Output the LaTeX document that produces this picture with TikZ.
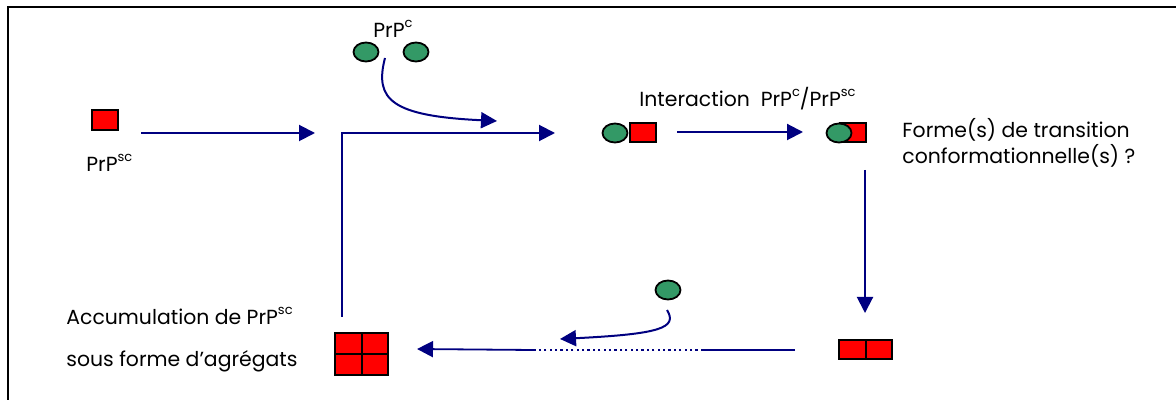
\documentclass[tikz,border=0pt]{standalone}
\usepackage{fontspec}
\setmainfont{Poppins}
\usetikzlibrary{arrows.meta,shapes.geometric}
\definecolor{navy}{RGB}{0,0,128}
\definecolor{prpgreen}{RGB}{51,153,102}
\newcommand{\prpsup}[1]{\raisebox{0.9ex}{\fontsize{6.5}{7}\selectfont #1}}
\begin{document}
\begin{tikzpicture}[x=0.5pt,y=-0.5pt]
        \tikzstyle{sc} = [rectangle, draw=black, fill=red, line width=1pt, minimum width=13pt, minimum height=10pt, inner sep=0pt]
        \tikzstyle{pc} = [ellipse, draw=black, fill=prpgreen, line width=0.9pt, minimum width=12.5pt, minimum height=9.5pt, inner sep=0pt]
        \tikzstyle{arrow} = [navy, line width=1pt, -{Triangle[length=8pt,width=8pt]}]
        \tikzstyle{txt} = [font=\fontsize{10.2}{12}\selectfont, inner sep=0pt, anchor=base west]
        \useasboundingbox (0,0) rectangle (1176,400);
        % cadre
        \draw[line width=1.2pt] (8,400) -- (8,7) -- (1176,7);
        % PrPsc seule
        \node (sc1) [sc] at (105,120) {};
        \node (lsc1) [txt] at (86,172) {PrP\prpsup{sc}};
        \coordinate (a1) at (141,133);
        \coordinate (a2) at (315,133);
        \draw[arrow] (a1) -- (a2);
        % PrPc
        \node (lc) [txt] at (373,38) {PrP\prpsup{c}};
        \node (c1) [pc] at (366,52) {};
        \node (c2) [pc] at (416,52) {};
        \coordinate (b1) at (385,58);
        \coordinate (b2) at (497,121);
        \draw[arrow] (b1) .. controls (374,100) and (392,116) .. (b2);
        % complexe
        \node (k1) [pc] at (615,133) {};
        \node (k2) [sc, minimum height=9.5pt] at (643,133) {};
        \node (lint) [txt] at (639,107) {Interaction~ PrP\prpsup{c}/PrP\prpsup{sc}};
        \coordinate (d1) at (677,132);
        \coordinate (d2) at (803,132);
        \draw[arrow] (d1) -- (d2);
        % forme de transition
        \node (t2) [sc, minimum height=9.5pt] at (853,133) {};
        \node (t1) [pc] at (839,133) {};
        \node (lt1) [txt] at (902,138) {Forme(s) de transition};
        \node (lt2) [txt] at (902,164) {conformationnelle(s) ?};
        \coordinate (e1) at (865,170);
        \coordinate (e2) at (865,313);
        \draw[arrow] (e1) -- (e2);
        % dimere
        \node (m1) [sc, minimum width=13.25pt, minimum height=9.5pt] at (852.25,349.5) {};
        \node (m2) [sc, minimum width=13.25pt, minimum height=9.5pt] at (878.75,349.5) {};
        \coordinate (f1) at (795,350);
        \coordinate (f2) at (703,350);
        \coordinate (f3) at (533,350);
        \coordinate (f4) at (417,349);
        \draw[navy, line width=0.8pt] (f1) -- (f2);
        \draw[navy, line width=1.1pt, dash pattern=on 1.1pt off 1.6pt] (f2) -- (f3);
        \draw[arrow, line width=0.9pt] (f3) -- (f4);
        % PrPc libre
        \node (c3) [pc] at (668,290) {};
        \coordinate (g1) at (667,310);
        \coordinate (g2) at (560,339);
        \draw[arrow] (g1) .. controls (678,328) and (660,334) .. (g2);
        % agregats
        \node (ag1) [sc, minimum width=13.25pt, minimum height=10.5pt] at (348.25,343.5) {};
        \node (ag2) [sc, minimum width=13.25pt, minimum height=10.5pt] at (374.75,343.5) {};
        \node (ag3) [sc, minimum width=13.25pt, minimum height=10.5pt] at (348.25,364.5) {};
        \node (ag4) [sc, minimum width=13.25pt, minimum height=10.5pt] at (374.75,364.5) {};
        \node (lag1) [txt] at (66,325) {Accumulation de PrP\prpsup{sc}};
        \node (lag2) [txt] at (66,366) {sous forme d’agrégats};
        \coordinate (h1) at (342,317);
        \coordinate (h2) at (342,133);
        \coordinate (h3) at (555,133);
        \draw[arrow] (h1) -- (h2) -- (h3);
\end{tikzpicture}
\end{document}
